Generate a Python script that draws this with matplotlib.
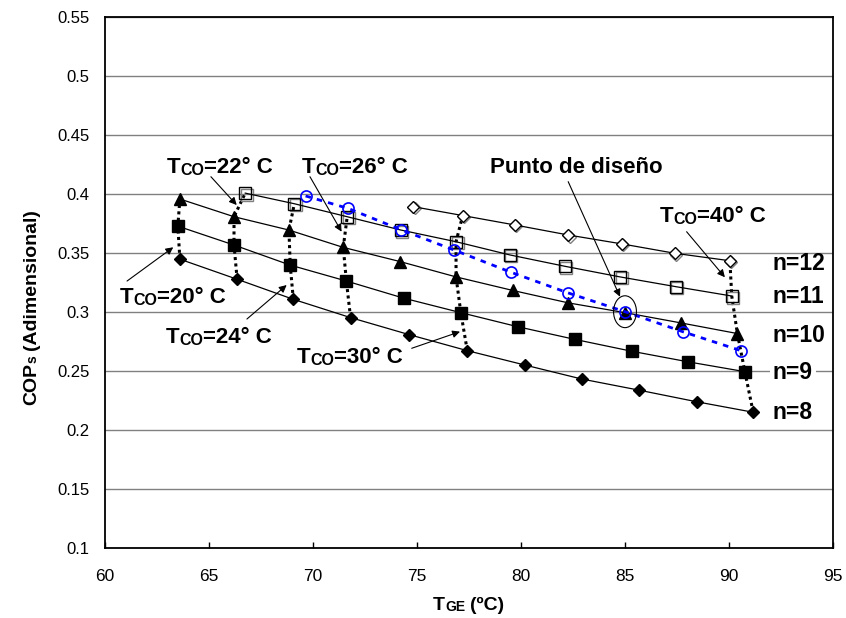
import matplotlib
matplotlib.use("Agg")
import matplotlib.pyplot as plt
from matplotlib.patches import Ellipse
from matplotlib.transforms import offset_copy

plt.rcParams['font.family'] = ['Liberation Sans', 'DejaVu Sans']

# ---- data -------------------------------------------------------------
# generator temperature (ºC) and COP for each number of stages n
tge_n8 = [63.6, 66.35, 69.05, 71.8, 74.63, 77.41, 80.18, 82.9, 85.67, 88.43, 91.15]
cop_n8 = [0.345, 0.328, 0.311, 0.2955, 0.281, 0.2675, 0.2553, 0.2435, 0.234, 0.2242, 0.2153]

tge_n9 = [63.5, 66.2, 68.9, 71.6, 74.35, 77.1, 79.83, 82.59, 85.31, 88.03, 90.75]
cop_n9 = [0.373, 0.357, 0.340, 0.3265, 0.312, 0.2997, 0.2878, 0.277, 0.267, 0.258, 0.2497]

tge_n10 = [63.6, 66.2, 68.84, 71.45, 74.18, 76.87, 79.6, 82.26, 84.99, 87.68, 90.39]
cop_n10 = [0.396, 0.381, 0.3697, 0.355, 0.343, 0.330, 0.3185, 0.308, 0.2997, 0.291, 0.282]

tge_n11 = [66.74, 69.1, 71.64, 74.22, 76.87, 79.46, 82.1, 84.75, 87.44, 90.12]
cop_n11 = [0.401, 0.392, 0.381, 0.3697, 0.3598, 0.3486, 0.339, 0.330, 0.3217, 0.3138]

tge_n12 = [74.82, 77.19, 79.7, 82.27, 84.83, 87.39, 90.03]
cop_n12 = [0.3895, 0.382, 0.374, 0.3655, 0.358, 0.350, 0.3437]

# design line
tge_design = [69.64, 71.69, 74.22, 76.77, 79.5, 82.23, 84.99, 87.76, 90.56]
cop_design = [0.3986, 0.388, 0.370, 0.3528, 0.334, 0.3166, 0.3005, 0.2836, 0.2675]
design_idx = 6

# condenser temperatures: column k of the grid corresponds to Tco = 20 + 2k
tco_first = 20
tco_step = 2
tco_isotherms = [20, 22, 24, 26, 30, 40]
# first grid column present in each stage series
col_offset = {'n8': 0, 'n9': 0, 'n10': 0, 'n11': 1, 'n12': 4}

n_labels = ['n=12', 'n=11', 'n=10', 'n=9', 'n=8']

x_ticks = [60, 65, 70, 75, 80, 85, 90, 95]
y_ticks = [0.1, 0.15, 0.2, 0.25, 0.3, 0.35, 0.4, 0.45, 0.5, 0.55]
y_tick_labels = ['0.1', '0.15', '0.2', '0.25', '0.3', '0.35', '0.4', '0.45', '0.5', '0.55']

# ---- figure ------------------------------------------------------------
W, H = 846, 618
fig = plt.figure(figsize=(W / 100, H / 100), dpi=100)
ax = fig.add_axes([105 / W, 1 - 548.3 / H, (833.3 - 105) / W, (548.3 - 17.3) / H])
ax.set_xlim(60, 95)
ax.set_ylim(0.1, 0.55)

ax.set_xticks(x_ticks)
ax.set_xticklabels([str(v) for v in x_ticks])
ax.set_yticks(y_ticks)
ax.set_yticklabels(y_tick_labels)
ax.tick_params(axis='x', direction='in', length=4, width=1, labelsize=12.5, pad=15)
ax.tick_params(axis='y', length=0, labelsize=12, pad=11)
for s in ax.spines.values():
    s.set_linewidth(1.3)
    s.set_color('black')
ax.grid(axis='y', color='#808080', lw=1.0, zorder=0)
ax.set_axisbelow(True)

series = {
    'n8': (tge_n8, cop_n8),
    'n9': (tge_n9, cop_n9),
    'n10': (tge_n10, cop_n10),
    'n11': (tge_n11, cop_n11),
    'n12': (tge_n12, cop_n12),
}

# dotted isotherms of constant Tco, joining the stage series
for tco in tco_isotherms:
    col = (tco - tco_first) // tco_step
    xs, ys = [], []
    for key in ['n8', 'n9', 'n10', 'n11', 'n12']:
        i = col - col_offset[key]
        tx, ty = series[key]
        if 0 <= i < len(tx):
            xs.append(tx[i])
            ys.append(ty[i])
    ax.plot(xs, ys, color='black', lw=2.2, linestyle=(0, (1, 1.1)), zorder=2)

# stage curves
ax.plot(tge_n8, cop_n8, color='black', lw=0.9, marker='D', ms=6.5,
        mfc='black', mec='black', zorder=3)
ax.plot(tge_n9, cop_n9, color='black', lw=0.9, marker='s', ms=9,
        mfc='black', mec='black', zorder=3)
ax.plot(tge_n10, cop_n10, color='black', lw=0.9, marker='^', ms=9,
        mfc='black', mec='black', zorder=3)

shadow = offset_copy(ax.transData, fig=fig, x=1.5, y=-1.5, units='dots')
ax.plot(tge_n11, cop_n11, ls='none', marker='s', ms=8.5, mfc='none',
        mec='#808080', mew=1.0, transform=shadow, zorder=3)
ax.plot(tge_n11, cop_n11, color='black', lw=0.9, marker='s', ms=8.5,
        mfc='none', mec='black', mew=1.0, zorder=3)
ax.plot(tge_n12, cop_n12, ls='none', marker='D', ms=6.5, mfc='none',
        mec='#808080', mew=1.0, transform=shadow, zorder=3)
ax.plot(tge_n12, cop_n12, color='black', lw=0.9, marker='D', ms=6.5,
        mfc='white', mec='black', mew=1.0, zorder=3)

# design line
ax.plot(tge_design, cop_design, color='#0000FF', lw=2.0, linestyle=(0, (2, 2.2)),
        marker='o', ms=8, mfc='none', mec='#0000FF', mew=1.2, zorder=4)
ax.add_patch(Ellipse((tge_design[design_idx], cop_design[design_idx]),
                     width=1.1, height=0.027, fill=False, ec='black', lw=0.8, zorder=5))


# ---- labels -----------------------------------------------------------
def rich_label(xy, pieces, xycoords='data', rotation=0, **kw):
    txt, size = pieces[0][:2]
    if rotation == 0:
        prev = ax.annotate(txt, xy=xy, xycoords=xycoords, fontsize=size,
                           fontweight='bold', ha='left', va='baseline',
                           annotation_clip=False, **kw)
    else:
        prev = ax.annotate(txt, xy=xy, xycoords=xycoords, fontsize=size,
                           fontweight='bold', ha='right', va='bottom',
                           rotation=rotation, annotation_clip=False, **kw)
    for piece in pieces[1:]:
        txt, size = piece[:2]
        gap = piece[2] if len(piece) > 2 else 0
        if rotation == 0:
            prev = ax.annotate(txt, xy=(1, 0), xycoords=prev, xytext=(gap, 0),
                               textcoords='offset points', fontsize=size,
                               fontweight='bold', ha='left', va='bottom',
                               annotation_clip=False, **kw)
        else:
            prev = ax.annotate(txt, xy=(1, 1), xycoords=prev, xytext=(0, gap),
                               textcoords='offset points', fontsize=size,
                               fontweight='bold', ha='right', va='bottom',
                               rotation=rotation, annotation_clip=False, **kw)
    return prev


BIG, SMALL = 16, 11.5


def tco_text(t):
    return [("T", BIG), ("CO", SMALL), ("=%d° C" % t, BIG)]


arrow = dict(arrowstyle='-|>', color='black', lw=0.8, mutation_scale=11,
             shrinkA=0, shrinkB=0)

# (text position, arrow tail, arrow head)
tco_notes = [
    (22, (62.96, 0.4178), (65.09, 0.4149), (66.33, 0.3909)),
    (26, (69.45, 0.4181), (69.85, 0.4149), (71.37, 0.3683)),
    (20, (60.72, 0.3079), (61.06, 0.3265), (63.28, 0.3551)),
    (24, (62.93, 0.2740), (66.82, 0.2943), (68.73, 0.3231)),
    (30, (69.21, 0.2573), (74.74, 0.2695), (77.06, 0.2836)),
    (40, (86.67, 0.3768), (87.95, 0.3683), (89.79, 0.3297)),
]
for t, pos, tail, head in tco_notes:
    rich_label(pos, tco_text(t))
    ax.annotate("", xy=head, xytext=tail, arrowprops=arrow, annotation_clip=False)

ax.text(78.5, 0.4178, "Punto de diseño", fontsize=BIG, fontweight='bold',
        ha='left', va='baseline')
ax.annotate("", xy=(84.75, 0.3132), xytext=(82.26, 0.4107), arrowprops=arrow)

n_label_y = [0.3358, 0.3076, 0.2751, 0.2435, 0.2096]
for lab, yy in zip(n_labels, n_label_y):
    box = dict(facecolor='white', edgecolor='none', pad=2) if lab == 'n=9' else None
    ax.text(92.1, yy, lab, fontsize=16.5, fontweight='bold', ha='left',
            va='baseline', bbox=box, zorder=6)

# axis titles
rich_label((433, 8), [("T", 14), ("GE", 10), ("(ºC)", 14, 3.5)],
           xycoords='figure pixels')
rich_label((40, 213), [("COP", 14), ("s", 10), ("(Adimensional)", 14, 3.5)],
           xycoords='figure pixels', rotation=90)

fig.savefig("out.png", dpi=100)
